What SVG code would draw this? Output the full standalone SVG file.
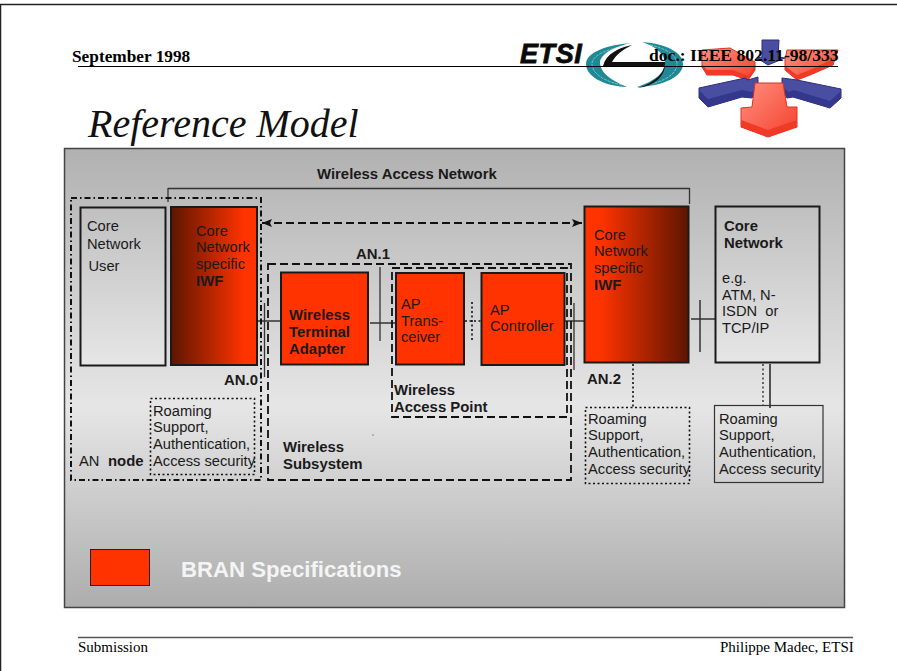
<svg xmlns="http://www.w3.org/2000/svg" width="897" height="671" viewBox="0 0 897 671">
<defs>
<linearGradient id="bg" x1="0" y1="0" x2="0" y2="1"><stop offset="0" stop-color="#b1b1b1"/><stop offset="0.56" stop-color="#e6e6e6"/><stop offset="1" stop-color="#adadad"/></linearGradient>
<linearGradient id="user" x1="0" y1="0" x2="0" y2="1"><stop offset="0" stop-color="#c0c0c0"/><stop offset="1" stop-color="#e6e6e6"/></linearGradient>
<linearGradient id="iwfL" x1="0" y1="0" x2="1" y2="0"><stop offset="0" stop-color="#5c1600"/><stop offset="0.85" stop-color="#ff3300"/><stop offset="1" stop-color="#ff3300"/></linearGradient>
<linearGradient id="iwfR" x1="0" y1="0" x2="1" y2="0"><stop offset="0" stop-color="#ff3300"/><stop offset="0.15" stop-color="#ff3300"/><stop offset="1" stop-color="#5c1600"/></linearGradient>
<linearGradient id="redA" x1="0" y1="0" x2="1" y2="1"><stop offset="0" stop-color="#ff9080"/><stop offset="1" stop-color="#f4402c"/></linearGradient>
<marker id="ah" viewBox="0 0 10 8" refX="10" refY="4" markerWidth="10" markerHeight="8" orient="auto-start-reverse" markerUnits="userSpaceOnUse"><path d="M0 0L10 4L0 8L2 4Z" fill="#111"/></marker>
</defs>
<style>
text{font-family:"Liberation Sans",Arial,sans-serif;font-size:14.7px;fill:#1a1a1a}
.b{font-weight:bold;font-size:14.9px}
.s{font-family:"Liberation Serif","Times New Roman",serif;fill:#000}
.box{stroke:#1a1a1a;stroke-width:2}
.dd{fill:none;stroke:#111;stroke-width:2;stroke-dasharray:6 3 1.500 3}
.da{fill:none;stroke:#111;stroke-width:1.800;stroke-dasharray:8 4}
.do{fill:none;stroke:#111;stroke-width:1.600;stroke-dasharray:2 2.500}
.ln{fill:none;stroke:#333;stroke-width:1.300}
.red{fill:#ff3300}
.blue{fill:#4a4ea0;stroke:#2c2f80;stroke-width:1}
.rimb{fill:#34388c}
.rimr{fill:#f03a26}
.redarrow{fill:url(#redA);stroke:#e03020;stroke-width:1}
.teal{fill:#1f8a96}
.stripe{fill:none;stroke:#bfe0e3;stroke-width:.6;stroke-dasharray:3 1}
</style>
<rect width="897" height="671" fill="#fff"/>
<path d="M0.500 671V4.500H897" fill="none" stroke="#222" stroke-width="1.500"/>
<g id="logo">
<path class="teal" d="M632 43C605 45 586 53 586 64C586 76 603 86 627 87C610 80 600 72 600 63C600 54 615 46 632 43Z"/>
<path class="teal" d="M642 42C668 44 683 53 683 64C683 76 665 86 637 87C652 82 665 74 665 63C665 54 655 46 642 42Z"/>
<path class="stripe" d="M625 46C604 50 592 56 592 64C592 74 606 82 622 85M650 45C668 49 677 56 677 64C677 74 664 82 646 85"/>
<path d="M632 45C618 48 606 54 603 66L664 66C664 75 650 85 637 88C655 86 666 76 665 62L612 62C616 55 622 50 632 45Z" fill="#111"/>
<text x="520" y="63" class="b" style="font-style:italic;font-size:27px;fill:#0a0a0a;stroke:#0a0a0a;stroke-width:.8px;letter-spacing:.6px">ETSI</text>
<polygon class="blue" points="762,40 779,40 778,57 785,58 768,65 757,58 762,57"/>
<polygon class="redarrow" points="702,50 730,48 755,62 755,70 748,80 733,75 707,75 702,67"/>
<polygon class="rimr" points="702,64 707,70 733,70 748,76 755,66 755,70 748,80 733,75 707,75 702,67"/>
<polygon class="redarrow" points="787,50 838,50 833,65 810,75 797,80 785,70 785,60"/>
<polygon class="rimr" points="785,66 797,75 810,70 835,58 833,65 810,75 797,80 785,70"/>
<polygon class="blue" points="699,88 745,78 748,80 758,77 758,90 752,98 742,97 708,107 699,98"/>
<polygon class="rimb" points="699,90 708,99 742,90 752,92 758,85 758,90 752,98 742,97 708,107 699,98"/>
<polygon class="blue" points="782,78 797,80 841,89 841,98 830,108 793,97 787,98 782,90"/>
<polygon class="rimb" points="782,85 788,92 794,90 830,101 841,91 841,98 830,108 793,97 787,98 782,90"/>
<polygon class="redarrow" points="755,83 783,83 787,107 797,107 797,127 768,137 741,127 741,108 752,107"/>
<polygon class="rimr" points="741,120 768,130 797,120 797,127 768,137 741,127"/>
</g>
<g id="header">
<text class="s b" x="72" y="61.500" style="font-size:17.300px">September 1998</text>
<text class="s b" x="649" y="61" style="font-size:17.600px">doc.: IEEE 802.11-98/333</text>
<line x1="78" y1="66.500" x2="838" y2="66.500" stroke="#000" stroke-width="1.200"/>
<text class="s" x="88" y="137" style="font-size:40px;font-style:italic;fill:#111">Reference Model</text>
</g>
<rect id="panel" x="64.500" y="148.500" width="780" height="459" fill="url(#bg)" stroke="#444" stroke-width="1.500"/>
<g id="connectors">
<path class="ln" d="M168 188.500H690M168 188V202M689.500 188V204"/>
<path class="da" d="M262 223H582" marker-start="url(#ah)" marker-end="url(#ah)"/>
<path class="ln" d="M255 321H285M264.500 303V377M370 323H397M380 267V341"/>
<path class="do" d="M465 321H481M472 302V341"/>
<path class="ln" d="M565 321H587M574 303V370"/>
<path d="M691 319H716M700 300V352" fill="none" stroke="#333" stroke-width="1.500"/>
<path class="do" d="M633 364V407"/>
<path d="M770 364V408" fill="none" stroke="#222" stroke-width="1.500"/>
<path class="do" d="M763 364V405" style="stroke-width:1.200"/>
<circle cx="373" cy="435" r="0.600" fill="#222"/>
</g>
<g id="an-node">
<rect class="dd" x="71" y="198" width="190" height="282"/>
<text x="79" y="466">AN</text><text class="b" x="108" y="466">node</text>
<text class="b" x="224" y="385">AN.0</text>
</g>
<g id="core-user"><rect class="box" x="80.500" y="207.500" width="85" height="158" fill="url(#user)"/>
<text x="87" y="231">Core</text><text x="87" y="249">Network</text><text x="88.500" y="271">User</text></g>
<g id="iwf-left"><rect class="box" x="171" y="207" width="86" height="158" fill="url(#iwfL)"/>
<text x="196" y="236">Core</text><text x="196" y="252">Network</text><text x="196" y="269">specific</text><text class="b" x="196" y="286">IWF</text></g>
<g id="roam-1"><rect class="do" x="150.500" y="398.500" width="104" height="76"/>
<text x="153" y="416">Roaming</text><text x="153" y="432">Support,</text><text x="153" y="449">Authentication,</text><text x="153" y="466">Access security</text></g>
<g id="subsystem"><rect class="da" x="268" y="264" width="303" height="216"/>
<text class="b" x="356" y="259">AN.1</text>
<text class="b" x="283" y="452">Wireless</text><text class="b" x="283" y="469">Subsystem</text></g>
<g id="access-point"><rect class="da" x="392" y="268" width="175" height="149"/>
<text class="b" x="394" y="395">Wireless</text><text class="b" x="394" y="412">Access Point</text></g>
<g id="wta"><rect class="box red" x="281" y="272.500" width="87" height="92"/>
<text class="b" x="289" y="320">Wireless</text><text class="b" x="289" y="337">Terminal</text><text class="b" x="289" y="354">Adapter</text></g>
<g id="transceiver"><rect class="box red" x="396" y="273" width="68" height="91.500"/>
<text x="401" y="309">AP</text><text x="401" y="326">Trans-</text><text x="401" y="342">ceiver</text></g>
<g id="controller"><rect class="box red" x="481.500" y="273" width="83" height="92"/>
<text x="490" y="315">AP</text><text x="490" y="331">Controller</text></g>
<g id="iwf-right"><rect class="box" x="584.500" y="206.500" width="104" height="156" fill="url(#iwfR)"/>
<text x="594" y="240">Core</text><text x="594" y="256">Network</text><text x="594" y="273">specific</text><text class="b" x="594" y="290">IWF</text></g>
<text class="b" x="587" y="384">AN.2</text>
<g id="roam-2"><rect class="do" x="585.500" y="407.500" width="104" height="76"/>
<text x="588" y="424">Roaming</text><text x="588" y="440">Support,</text><text x="588" y="457">Authentication,</text><text x="588" y="474">Access security</text></g>
<g id="core-network"><rect class="box" x="715.500" y="206.500" width="104" height="156" fill="url(#user)"/>
<text class="b" x="724" y="231">Core</text><text class="b" x="724" y="248">Network</text>
<text x="722" y="283">e.g.</text><text x="722" y="300">ATM, N-</text><text x="722" y="316">ISDN&#160; or</text><text x="722" y="333">TCP/IP</text></g>
<g id="roam-3"><rect x="714.500" y="405.500" width="108.500" height="77" fill="none" stroke="#333" stroke-width="1.200"/>
<text x="719" y="424">Roaming</text><text x="719" y="440">Support,</text><text x="719" y="457">Authentication,</text><text x="719" y="474">Access security</text></g>
<g id="legend"><rect x="90.500" y="549.500" width="59" height="36" fill="#ff3300" stroke="#222" stroke-width="1"/>
<text class="b" x="181" y="576.500" style="font-size:22.200px;fill:#f4f4f4">BRAN Specifications</text></g>
<text class="b" x="317" y="179">Wireless Access Network</text>
<g id="footer">
<line x1="78" y1="637.500" x2="853" y2="637.500" stroke="#555" stroke-width="1.300"/>
<text class="s" x="78" y="651.500" style="font-size:15px">Submission</text>
<text class="s" x="720" y="651.500" style="font-size:15px">Philippe Madec, ETSI</text>
</g>
</svg>
